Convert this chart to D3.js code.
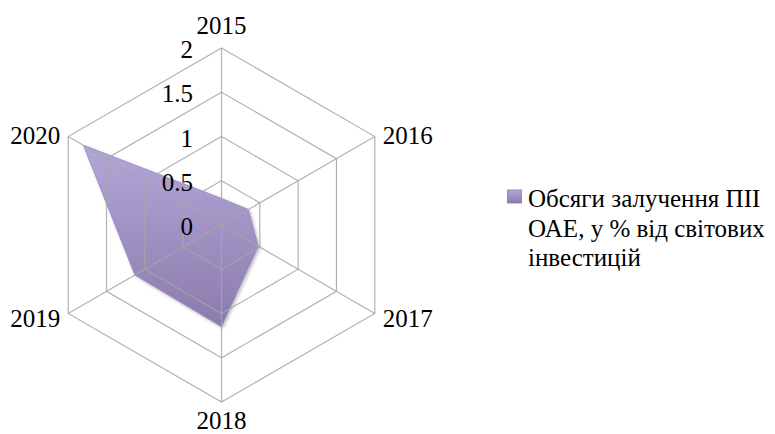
<!DOCTYPE html>
<html><head><meta charset="utf-8">
<script src="https://cdn.jsdelivr.net/npm/d3@7"></script>
<style>body{margin:0;background:#fff}svg{display:block}svg text{font-family:"Liberation Serif",serif}</style>
</head><body><svg id="c" width="775" height="434" font-family="Liberation Serif"></svg>
<script>
const categories = ["2015","2016","2017","2018","2019","2020"];
const values = [0.3, 0.35, 0.48, 1.15, 1.13, 1.8];
const tickValues = [0, 0.5, 1, 1.5, 2];
const tickLabels = ["0","0.5","1","1.5","2"];
const seriesName = ["Обсяги залучення ПІІ","ОАЕ, у % від світових","інвестицій"];

const FONT = '"Liberation Serif", serif';
const svg = d3.select("#c");
const cx = 221.5, cy = 225;
const r = d3.scaleLinear().domain([0, 2]).range([0, 177]);
const ang = d3.scalePoint().domain(categories.concat(["_end"])).range([0, 2*Math.PI]);
const pt = (c, v) => { const a = ang(c); return [cx + r(v)*Math.sin(a), cy - r(v)*Math.cos(a)]; };

const defs = svg.append("defs");
const g = defs.append("linearGradient").attr("id","gf").attr("x1",0).attr("y1",0).attr("x2",0).attr("y2",1);
g.append("stop").attr("offset","0%").attr("stop-color","#b4a6d9");
g.append("stop").attr("offset","100%").attr("stop-color","#8b7bac");
const f = defs.append("filter").attr("id","sh").attr("x","-10%").attr("y","-10%").attr("width","130%").attr("height","130%");
f.append("feDropShadow").attr("dx",1.5).attr("dy",1.5).attr("stdDeviation",1.5).attr("flood-color","#000").attr("flood-opacity",0.25);

// polygon
const line = d3.line().curve(d3.curveLinearClosed);
svg.append("path")
  .attr("d", line(categories.map((c,i)=>pt(c, values[i]))))
  .attr("fill","url(#gf)").attr("stroke","#9d8fc6").attr("stroke-width",1)
  .attr("filter","url(#sh)");

// grid
const grid = svg.append("g").attr("fill","none").attr("stroke","#a6a6a6").attr("stroke-width",1.2);
tickValues.filter(v=>v>0).forEach(v=>{
  grid.append("path").attr("d", line(categories.map(c=>pt(c,v)))).attr("stroke-opacity",0.85);
});
categories.forEach(c=>{
  const p = pt(c, 2);
  grid.append("line").attr("x1",cx).attr("y1",cy).attr("x2",p[0]).attr("y2",p[1]).attr("stroke-opacity",0.85);
});

// tick labels
svg.selectAll("text.tick").data(tickValues).join("text").attr("class","tick")
  .attr("x", cx - 28.5).attr("y", d => cy - r(d) + 10)
  .attr("text-anchor","end").style("font-size","25px").attr("fill","#000")
  .style("font-family", FONT)
  .text((d,i)=>tickLabels[i]);

// category labels
categories.forEach(c=>{
  const a = ang(c);
  const p = pt(c, 2);
  let x = p[0], y = p[1], anchor = "middle";
  const s = Math.sin(a), co = Math.cos(a);
  if (Math.abs(s) < 0.01) { y = co > 0 ? p[1] - 14 : p[1] + 27; }
  else {
    x = s > 0 ? p[0] + 8 : p[0] - 8;
    anchor = s > 0 ? "start" : "end";
    y = co > 0 ? p[1] + 7 : p[1] + 13;
  }
  svg.append("text").attr("x", x).attr("y", y).attr("text-anchor", anchor)
    .style("font-size","25px").attr("fill","#000").style("font-family", FONT).text(c);
});

// legend
svg.append("rect").attr("x",507.5).attr("y",190).attr("width",14).attr("height",13)
  .attr("fill","url(#gf)").attr("stroke","#8a7aab").attr("stroke-width",0.8);
svg.selectAll("text.leg").data(seriesName).join("text").attr("class","leg")
  .attr("x",528).attr("y",(d,i)=>207 + i*29.5)
  .style("font-size","25px").attr("fill","#000").style("font-family", FONT)
  .text(d=>d);
</script></body></html>
